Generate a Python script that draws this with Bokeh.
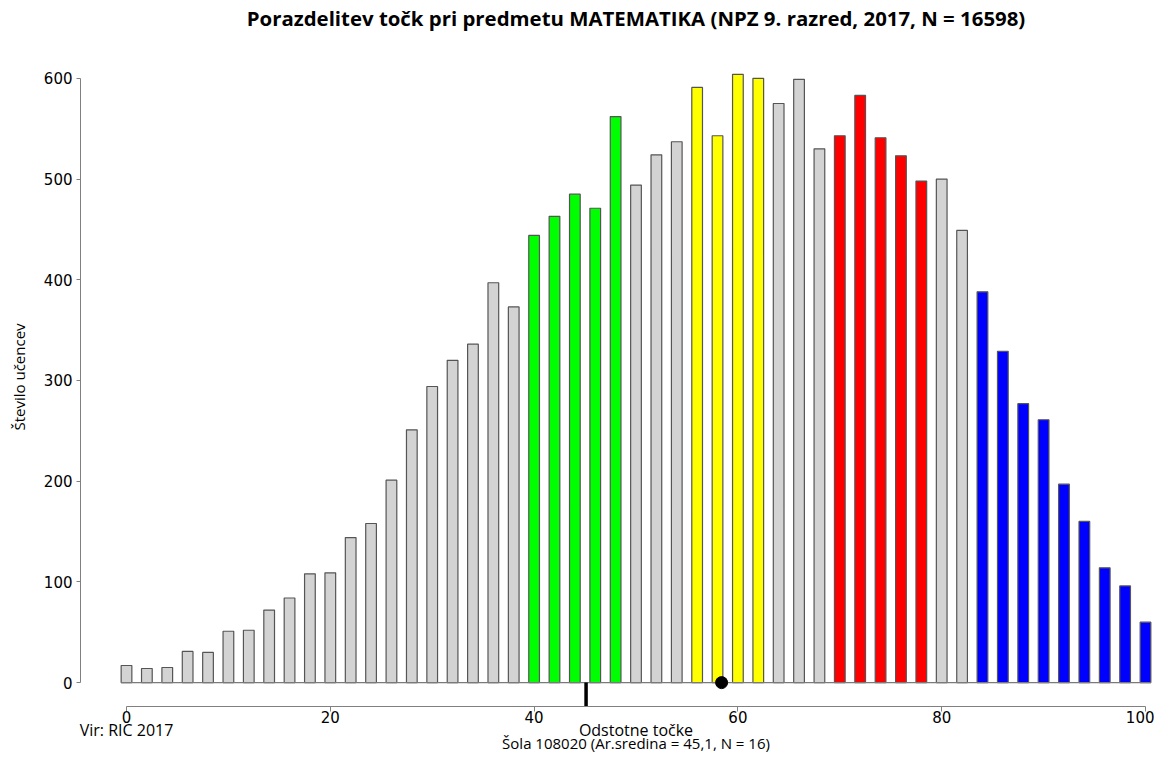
from bokeh.plotting import figure
from bokeh.models import Range1d, FixedTicker, ColumnDataSource, LinearAxis
from bokeh.embed import file_html
from bokeh.resources import INLINE

# ---- data ----
scores = list(range(0, 101, 2))
counts = [17, 14, 15, 31, 30, 51, 52, 72, 84, 108, 109,
          144, 158, 201, 251, 294, 320, 336, 397, 373,
          444, 463, 485, 471, 562,
          494, 524, 537,
          591, 543, 604, 600,
          575, 599, 530,
          543, 583, 541, 523, 498,
          500, 449,
          388, 329, 277, 261, 197, 160, 114, 96, 60]
bands = (["gray"] * 20 + ["green"] * 5 + ["gray"] * 3 + ["yellow"] * 4 +
         ["gray"] * 3 + ["red"] * 5 + ["gray"] * 2 + ["blue"] * 9)
band_colors = {"gray": "#d3d3d3", "green": "#00ff00", "yellow": "#ffff00",
               "red": "#ff0000", "blue": "#0000ff"}
school_mean = 45.1
national_mean = 58.4
y_ticks = [0, 100, 200, 300, 400, 500, 600]
x_ticks = [0, 20, 40, 60, 80, 100]

title_text = "Porazdelitev točk pri predmetu MATEMATIKA (NPZ 9. razred, 2017, N = 16598)"
x_label = "Odstotne točke"
y_label = "Število učencev"
source_text = "Vir: RIC 2017"
school_text = "Šola 108020 (Ar.sredina = 45,1, N = 16)"

# ---- figure ----
p = figure(width=1154, height=755, output_backend="svg", toolbar_location=None,
           x_range=Range1d(-4.514, 100.687), y_range=Range1d(-23.72, 630.6),
           min_border_left=80, min_border_right=2, min_border_top=46,
           min_border_bottom=47)
p.outline_line_color = None
p.grid.visible = False
p.background_fill_color = "white"

src = ColumnDataSource(dict(x=scores, top=counts,
                            color=[band_colors[b] for b in bands]))
bar_w = 1.05
p.vbar(x="x", top="top", width=bar_w, bottom=0, source=src,
       fill_color="color", line_color="#555555", line_width=1.2)
p.line(x=[scores[0] - bar_w / 2, scores[-1] + bar_w / 2], y=[0, 0],
       line_color="#7a7a7a", line_width=1.2)

p.segment(x0=[school_mean], y0=[0], x1=[school_mean], y1=[p.y_range.start],
          line_color="black", line_width=3.5)
p.scatter(x=[national_mean], y=[0], size=12, color="black")

# ---- main axes ----
ya = p.yaxis[0]
ya.bounds = (0, 600)
ya.ticker = FixedTicker(ticks=y_ticks)
ya.minor_tick_line_color = None
ya.major_tick_out = 4
ya.major_tick_in = 0
ya.axis_line_color = "#808080"
ya.major_tick_line_color = "#808080"
ya.major_label_standoff = 4
ya.major_label_text_font = "DejaVu Sans"
ya.major_label_text_font_size = "15px"
ya.major_label_text_color = "black"
ya.axis_label = y_label
ya.axis_label_text_font = "Open Sans"
ya.axis_label_text_font_size = "15px"
ya.axis_label_text_font_style = "normal"
ya.axis_label_text_color = "black"
ya.axis_label_standoff = 12

xa = p.xaxis[0]
xa.bounds = (0, 100)
xa.ticker = FixedTicker(ticks=x_ticks)
xa.minor_tick_line_color = None
xa.major_tick_out = 5
xa.major_tick_in = 0
xa.axis_line_color = "#808080"
xa.major_tick_line_color = "#808080"
xa.major_label_standoff = -1
xa.major_label_text_font = "DejaVu Sans"
xa.major_label_text_font_size = "15px"
xa.major_label_text_color = "black"


def text_axis(ticks, labels, font, size, style="normal", standoff=0):
    ax = LinearAxis(ticker=FixedTicker(ticks=ticks),
                    major_label_overrides=dict(zip(ticks, labels)))
    ax.axis_line_color = None
    ax.major_tick_line_color = None
    ax.minor_tick_line_color = None
    ax.major_tick_out = 0
    ax.major_tick_in = 0
    ax.major_label_standoff = standoff
    ax.major_label_text_font = font
    ax.major_label_text_font_size = size
    ax.major_label_text_font_style = style
    ax.major_label_text_color = "black"
    return ax


# bottom texts (placed under the percentage axis)
p.add_layout(text_axis([0, 50], [source_text, x_label], "Open Sans", "16px",
                       standoff=-7), "below")
p.add_layout(text_axis([50], [school_text], "Open Sans", "15px",
                       standoff=-11), "below")
# title above
p.add_layout(text_axis([50], [title_text], "Open Sans", "20.4px", "bold",
                       standoff=16), "above")

open("out.html", "w").write(file_html(p, INLINE))
